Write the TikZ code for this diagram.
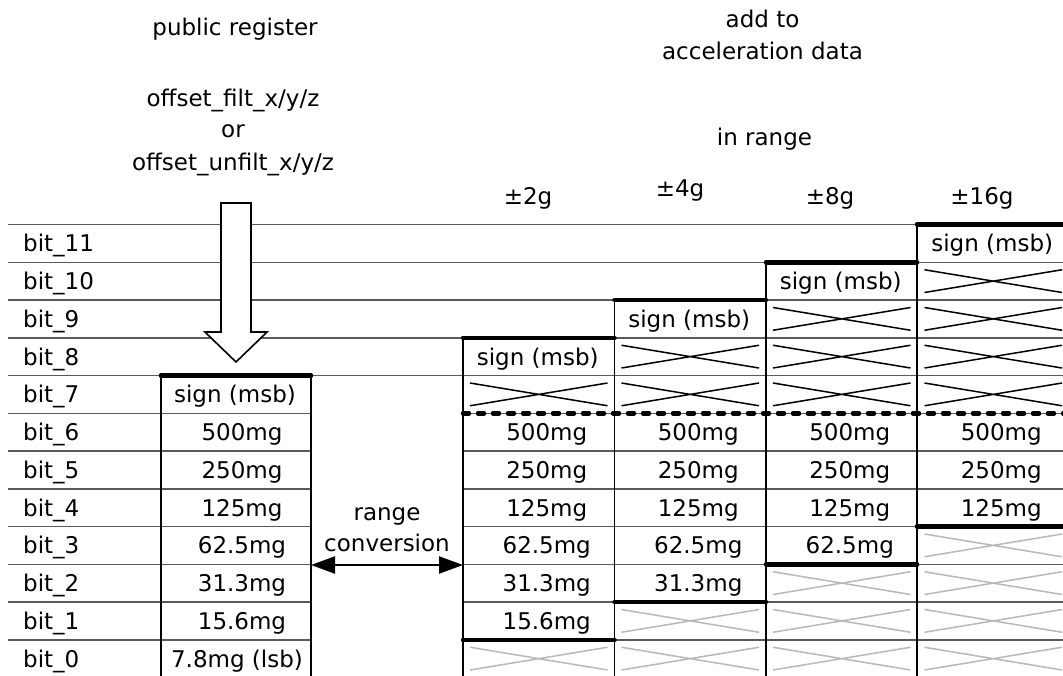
\documentclass[tikz,border=0pt]{standalone}
\usepackage{fontspec}
\setmainfont{DejaVu Sans}
\usetikzlibrary{arrows.meta}
\definecolor{rowgray}{HTML}{5A5A5A}
\definecolor{crossgray}{HTML}{B8B8B8}
\begin{document}
\begin{tikzpicture}[x=1pt,y=-1pt,
  txt/.style={font=\fontsize{23}{28}\selectfont, inner sep=0pt, anchor=base},
  rowline/.style={draw=rowgray, line width=1.5pt},
  vline/.style={draw=black, line width=1.8pt},
  boldline/.style={draw=black, line width=4.5pt, line cap=round},
  xblack/.style={draw=black, line width=1.5pt},
  xgray/.style={draw=crossgray, line width=1.5pt},
  bigarrow/.style={draw=black, line width=1.6pt, fill=white, line join=miter},
  convarrow/.style={line width=2.2pt, {Triangle[length=24pt,width=17pt]}-{Triangle[length=24pt,width=17pt]}}
]
\useasboundingbox (0,0) rectangle (1063,675);
\clip (0,0) rectangle (1063,675);

% row lines
\foreach \k in {11,10,9,8,7} {
  \pgfmathsetmacro\tp{224.5+(11-\k)*37.75}
  \draw[rowline] (8,\tp) -- (1068,\tp);
}
\foreach \k in {6,5,4,3,2,1,0} {
  \pgfmathsetmacro\tp{224.5+(11-\k)*37.75}
  \draw[rowline] (8,\tp) -- (311,\tp);
  \draw[rowline] (463,\tp) -- (1068,\tp);
}

% hollow arrow from the public register
\draw[bigarrow] (221,203) -- (251,203) -- (251,332) -- (267,332) -- (236,362) -- (205,332) -- (221,332) -- cycle;

% black crosses (sign extension)
\foreach \c/\k in {0/7,1/8,1/7,2/9,2/8,2/7,3/10,3/9,3/8,3/7} {
  \pgfmathsetmacro\xa{463+\c*151.5+7}
  \pgfmathsetmacro\xb{463+(\c+1)*151.5-7}
  \pgfmathsetmacro\ya{224.5+(11-\k)*37.75+7.5}
  \pgfmathsetmacro\yb{224.5+(12-\k)*37.75-7.5}
  \draw[xblack] (\xa,\ya) -- (\xb,\yb) (\xa,\yb) -- (\xb,\ya);
}
% gray crosses (dropped bits)
\foreach \c/\k in {0/0,1/1,1/0,2/2,2/1,2/0,3/3,3/2,3/1,3/0} {
  \pgfmathsetmacro\xa{463+\c*151.5+7}
  \pgfmathsetmacro\xb{463+(\c+1)*151.5-7}
  \pgfmathsetmacro\ya{224.5+(11-\k)*37.75+7.5}
  \pgfmathsetmacro\yb{224.5+(12-\k)*37.75-7.5}
  \draw[xgray] (\xa,\ya) -- (\xb,\yb) (\xa,\yb) -- (\xb,\ya);
}

% vertical lines
\draw[vline] (161,375.5) -- (161,680);
\draw[vline] (311,375.5) -- (311,680);
\draw[vline] (463,337.75) -- (463,680);
\draw[vline] (614.5,300) -- (614.5,680);
\draw[vline] (766,262.25) -- (766,680);
\draw[vline] (917,224.5) -- (917,680);

% bold borders
\draw[boldline] (161,375.5) -- (311,375.5);
\draw[boldline] (463,337.75) -- (614.5,337.75);
\draw[boldline] (463,639.75) -- (614.5,639.75);
\draw[boldline] (614.5,300) -- (766,300);
\draw[boldline] (614.5,602) -- (766,602);
\draw[boldline] (766,262.25) -- (917,262.25);
\draw[boldline] (766,564.25) -- (917,564.25);
\draw[boldline] (917,224.5) -- (1070,224.5);
\draw[boldline] (917,526.5) -- (1070,526.5);
\draw[boldline, dash pattern=on 6pt off 9pt] (463,413.25) -- (1070,413.25);

% range conversion arrow
\coordinate (convL) at (311,565);
\coordinate (convR) at (463,565);
\draw[convarrow] (convL) -- (convR);
\node[txt] (rng) at (387,520) {range};
\node[txt] (conv) at (387,551.5) {conversion};

% bit labels
\foreach \k in {0,...,11} {
  \pgfmathsetmacro\yc{224.5+(11.5-\k)*37.75+8.5}
  \node[txt, anchor=base west] (lbl\k) at (23,\yc) {bit\_\k};
}

% public register values
\node[txt] (ls) at (235,402.9) {sign (msb)};
\foreach \k/\v in {6/500mg,5/250mg,4/125mg,3/62.5mg,2/31.3mg,1/15.6mg} {
  \pgfmathsetmacro\yc{224.5+(11.5-\k)*37.75+8.5}
  \node[txt] (lv\k) at (242,\yc) {\v};
}
\node[txt] (lv0) at (237,667.1) {7.8mg (lsb)};

% range columns
\foreach \c in {0,1,2,3} {
  \pgfmathsetmacro\xc{463+(\c+0.5)*151.5}
  \pgfmathsetmacro\ys{224.5+(3.5-\c)*37.75+8.5}
  \node[txt] (s\c) at (\xc-1,\ys) {sign (msb)};
  \foreach \k/\v in {6/500mg,5/250mg,4/125mg,3/62.5mg,2/31.3mg,1/15.6mg} {
    \ifnum\k>\c
      \pgfmathsetmacro\yc{224.5+(11.5-\k)*37.75+8.5}
      \node[txt] (r\c v\k) at (\xc+8,\yc) {\v};
    \fi
  }
}

% headers
\node[txt] (h2) at (528,204) {±2g};
\node[txt] (h4) at (680,196.5) {±4g};
\node[txt] (h8) at (830,204) {±8g};
\node[txt] (h16) at (982,204) {±16g};

\node[txt] (pub) at (235,35) {public register};
\node[txt] (off1) at (233,106) {offset\_filt\_x/y/z};
\node[txt] (or) at (233,137.5) {or};
\node[txt] (off2) at (233,170) {offset\_unfilt\_x/y/z};

\node[txt] (add) at (762.5,27.5) {add to};
\node[txt] (acc) at (762.5,59.5) {acceleration data};
\node[txt] (inr) at (764.5,145) {in range};
\end{tikzpicture}
\end{document}
